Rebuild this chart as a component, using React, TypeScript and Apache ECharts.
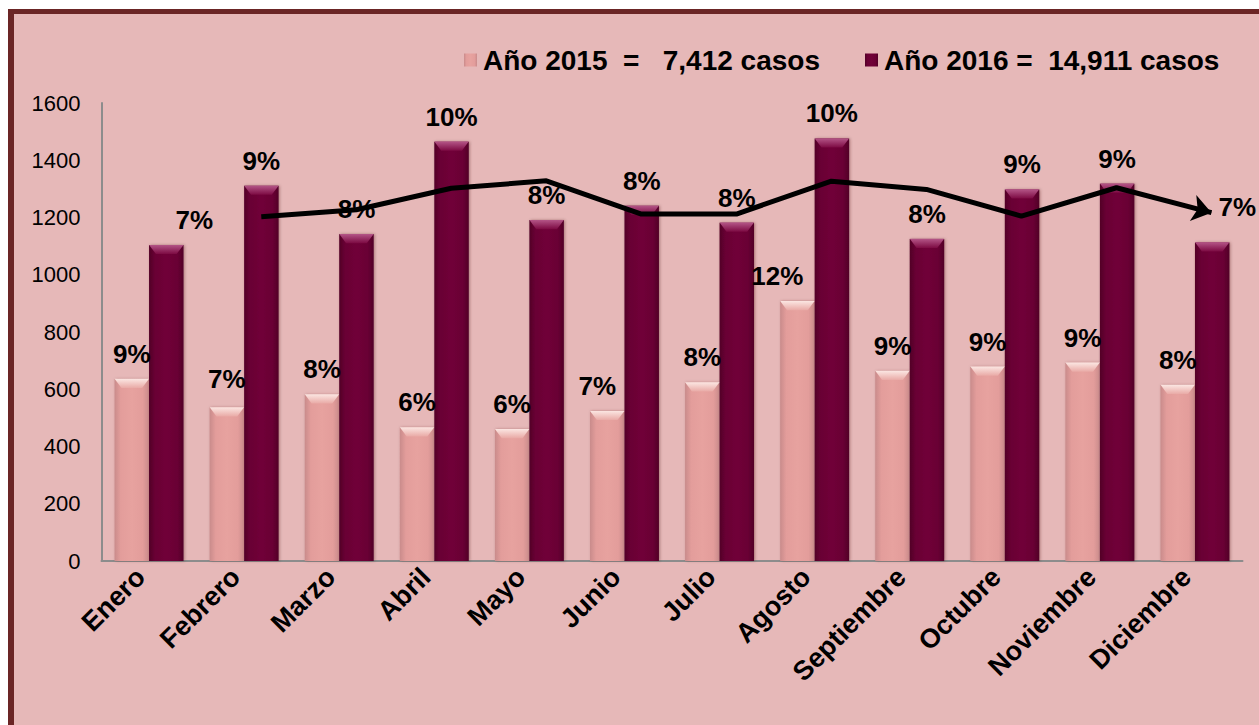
import React, { useEffect, useRef } from "react";
import * as echarts from "echarts";

const months = ["Enero", "Febrero", "Marzo", "Abril", "Mayo", "Junio", "Julio", "Agosto", "Septiembre", "Octubre", "Noviembre", "Diciembre"];
const casos2015 = [636, 537, 582, 467, 461, 524, 624, 908, 664, 679, 693, 615];
const casos2016 = [1104, 1311, 1142, 1465, 1191, 1241, 1182, 1476, 1125, 1298, 1318, 1113];
const pct2015 = [9, 7, 8, 6, 6, 7, 8, 12, 9, 9, 9, 8];
const pct2016 = [7, 9, 8, 10, 8, 8, 8, 10, 8, 9, 9, 7];
const tendencia = [null, 1203, 1227, 1302, 1328, 1212, 1212, 1327, 1298, 1205, 1304, 1217];
const seriesNames = ["Año 2015", "Año 2016"];
const legendTexts = ["Año 2015  =   7,412 casos", "Año 2016 =  14,911 casos"];
const yMin = 0;
const yMax = 1600;
const yInterval = 200;

const FONT = 'Arial, "Liberation Sans", sans-serif';

export default function App() {
  const ref = useRef<HTMLDivElement>(null);
  useEffect(() => {
    if (!ref.current) return;
    const chart = echarts.init(ref.current, undefined, { renderer: "svg" });

    const off2015: Record<number, number[]> = { 5: [-10, 0], 7: [-20, 0], 1: [0, -3] };
    const off2016: Record<number, number[]> = { 0: [28, 0], 11: [25, -10] };

    const pinkGrad = new echarts.graphic.LinearGradient(0, 0, 1, 0, [
      { offset: 0, color: "#c98b8b" },
      { offset: 0.18, color: "#e39d9b" },
      { offset: 0.5, color: "#e7a29f" },
      { offset: 0.82, color: "#e39d9b" },
      { offset: 1, color: "#c98b8b" },
    ]);
    const maroonGrad = new echarts.graphic.LinearGradient(0, 0, 1, 0, [
      { offset: 0, color: "#520027" },
      { offset: 0.18, color: "#6a0034" },
      { offset: 0.5, color: "#700238" },
      { offset: 0.82, color: "#6a0034" },
      { offset: 1, color: "#520027" },
    ]);
    const pinkBevel = new echarts.graphic.LinearGradient(0, 0, 0, 1, [
      { offset: 0, color: "#fbe6e2" },
      { offset: 1, color: "#e9aaa6" },
    ]);
    const maroonBevel = new echarts.graphic.LinearGradient(0, 0, 0, 1, [
      { offset: 0, color: "#b45587" },
      { offset: 1, color: "#7c0a42" },
    ]);

    const labelBase = {
      show: true,
      position: "top" as const,
      fontFamily: FONT,
      fontWeight: "bold" as const,
      fontSize: 26,
      color: "#000",
    };

    const gridA = { left: 101.5, top: 103, width: 1141, height: 458 };
    const gridB = { left: 118.75, top: 103, width: 1141, height: 458 };

    const yAxisBase = {
      type: "value" as const,
      min: yMin,
      max: yMax,
      interval: yInterval,
      splitLine: { show: false },
      axisTick: { show: false },
    };

    const bevelPath = "path://M0,0 L100,0 L80,30 L20,30 Z";

    chart.setOption({
      animation: false,
      backgroundColor: "transparent",
      legend: {
        data: seriesNames,
        left: 459,
        top: 41,
        icon: "rect",
        itemWidth: 13,
        itemHeight: 13,
        itemGap: 45,
        formatter: (name: string) => legendTexts[seriesNames.indexOf(name)],
        textStyle: { fontFamily: FONT, fontWeight: "bold", fontSize: 28, color: "#000", padding: [0, 0, 0, 1] },
      },
      grid: [gridA, gridB],
      xAxis: [
        {
          type: "category",
          data: months,
          gridIndex: 0,
          axisLine: { show: true, lineStyle: { color: "#8c8c8c", width: 2 } },
          axisTick: { show: false },
          axisLabel: {
            rotate: 45,
            interval: 0,
            margin: 3,
            padding: [0, 12, 0, 0],
            fontFamily: FONT,
            fontWeight: "bold",
            fontSize: 27,
            color: "#000",
          },
        },
        {
          type: "category",
          data: months,
          gridIndex: 1,
          show: false,
        },
      ],
      yAxis: [
        {
          ...yAxisBase,
          gridIndex: 0,
          axisLine: { show: true, lineStyle: { color: "#8c8c8c", width: 2 } },
          axisLabel: {
            fontFamily: FONT,
            fontSize: 22,
            color: "#000",
            margin: 21,
            formatter: (v: number) => String(v),
          },
        },
        { ...yAxisBase, gridIndex: 1, show: false },
      ],
      series: [
        {
          name: seriesNames[0],
          type: "bar",
          xAxisIndex: 0,
          yAxisIndex: 0,
          barWidth: 34.5,
          barGap: "0%",
          itemStyle: { color: pinkGrad, shadowBlur: 3, shadowColor: "rgba(80,0,0,0.3)", shadowOffsetX: 1 },
          data: casos2015.map((v, i) => ({
            value: v,
            label: { ...labelBase, distance: 12, formatter: `${pct2015[i]}%`, offset: off2015[i] || [0, 0] },
          })),
        },
        {
          name: seriesNames[1],
          type: "bar",
          xAxisIndex: 0,
          yAxisIndex: 0,
          barWidth: 34.5,
          barGap: "0%",
          itemStyle: { color: maroonGrad, shadowBlur: 3, shadowColor: "rgba(60,0,0,0.35)", shadowOffsetX: 1 },
          data: casos2016.map((v, i) => ({
            value: v,
            label: { ...labelBase, distance: 12, formatter: `${pct2016[i]}%`, offset: off2016[i] || [0, 0] },
          })),
        },
        {
          name: "bisel2015",
          type: "pictorialBar",
          xAxisIndex: 0,
          yAxisIndex: 0,
          z: 3,
          silent: true,
          barGap: "0%",
          barCategoryGap: "27.4%",
          symbol: bevelPath,
          symbolSize: [34.5, 9],
          symbolPosition: "end",
          symbolOffset: [0, 0],
          itemStyle: { color: pinkBevel },
          data: casos2015,
        },
        {
          name: "bisel2016",
          type: "pictorialBar",
          xAxisIndex: 0,
          yAxisIndex: 0,
          z: 3,
          silent: true,
          barGap: "0%",
          barCategoryGap: "27.4%",
          symbol: bevelPath,
          symbolSize: [34.5, 9],
          symbolPosition: "end",
          symbolOffset: [0, 0],
          itemStyle: { color: maroonBevel },
          data: casos2016,
        },
        {
          name: "Tendencia",
          type: "line",
          xAxisIndex: 1,
          yAxisIndex: 1,
          z: 5,
          symbol: "none",
          lineStyle: { color: "#000", width: 5 },
          data: tendencia.map((v, i) =>
            i === tendencia.length - 1
              ? { value: v, symbol: "arrow", symbolSize: [20, 19], symbolRotate: -104, itemStyle: { color: "#000" } }
              : v
          ),
        },
      ],
    });
    return () => chart.dispose();
  }, []);

  return (
    <>
      <div
        style={{
          position: "fixed",
          left: 8,
          top: 9,
          width: 1251,
          height: 716,
          background: "#e6b8b8",
          borderLeft: "6px solid #6b2525",
          borderTop: "5px solid #6b2525",
          boxSizing: "border-box",
          zIndex: 0,
        }}
      />
      <div ref={ref} style={{ position: "fixed", left: 0, top: 0, width: 1259, height: 725, zIndex: 1 }} />
    </>
  );
}
